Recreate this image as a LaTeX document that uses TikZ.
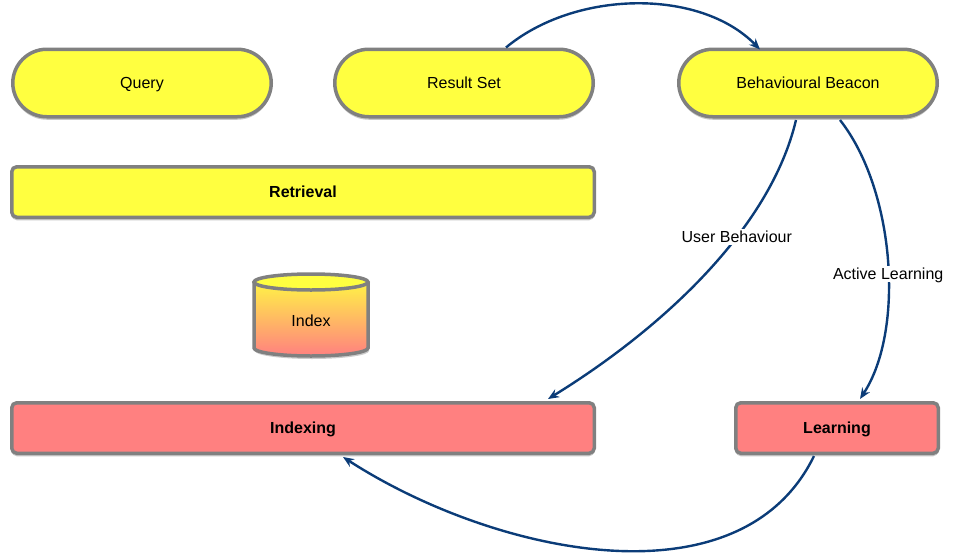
\documentclass[tikz,border=0pt]{standalone}
\usepackage{fontspec}
\setmainfont{Liberation Sans}
\usetikzlibrary{shadows,arrows.meta}
\definecolor{boxyellow}{HTML}{FFFF40}
\definecolor{boxsalmon}{HTML}{FF8080}
\definecolor{boxedge}{HTML}{808080}
\definecolor{arrowblue}{HTML}{0B3C78}
\tikzset{
  base/.style={draw=boxedge, line width=3.5pt, font=\fontsize{16}{19}\selectfont,
    text height=11.5pt, text depth=0pt,
    drop shadow={shadow xshift=0pt, shadow yshift=-3pt, opacity=0.22, fill=black}},
  pill/.style={base, fill=boxyellow, rounded corners=34pt, minimum width=258.5pt, minimum height=67.5pt},
  bar/.style={base, rounded corners=5pt, minimum height=50.5pt, font=\fontsize{16}{19}\selectfont\bfseries},
  flow/.style={draw=arrowblue, line width=2.4pt, -{Stealth[length=11pt,width=9pt]}},
  lbl/.style={fill=white, inner sep=2pt, font=\fontsize{16}{19}\selectfont}
}
\begin{document}
\begin{tikzpicture}[x=1pt,y=-1pt]
\useasboundingbox (0,0) rectangle (954,555);
\node[pill] (query) at (142,83) {Query};
\node[pill] (rs) at (464,83) {Result Set};
\node[pill] (bb) at (808,83) {Behavioural Beacon};
\node[bar, fill=boxyellow, minimum width=582.5pt] (ret) at (303,192) {Retrieval};
\node[bar, fill=boxsalmon, minimum width=582.5pt] (idx) at (303,428) {Indexing};
\node[bar, fill=boxsalmon, minimum width=202.5pt] (learn) at (837,428) {Learning};
% Index cylinder
\begin{scope}
\fill[black, opacity=0.2] (255,285) -- (255,351) arc[start angle=180,end angle=360,x radius=57,y radius=-8] -- (369,285) -- cycle;
\shade[top color=boxyellow, bottom color=boxsalmon] (254,282) -- (254,348) arc[start angle=180,end angle=360,x radius=57,y radius=-8] -- (368,282) arc[start angle=0,end angle=180,x radius=57,y radius=-8] -- cycle;
\fill[boxyellow] (311,282) ellipse[x radius=57,y radius=8];
\draw[boxedge, line width=3.5pt] (254,282) -- (254,348) arc[start angle=180,end angle=360,x radius=57,y radius=-8] -- (368,282);
\draw[boxedge, line width=3.5pt] (311,282) ellipse[x radius=57,y radius=8];
\end{scope}
\node[font=\fontsize{16}{19}\selectfont] (index) at (311,321) {Index};
% connectors
\coordinate (rsA) at ([xshift=42pt]rs.north);
\coordinate (bbA) at ([xshift=-48pt,yshift=-2pt]bb.north);
\draw[flow] (rsA) .. controls (575,-10) and (700,-12) .. (bbA);
\coordinate (bbB) at (796,120);
\coordinate (bbC) at (840,120);
\coordinate (idxA) at (548,399);
\coordinate (lrA) at (860,399);
\coordinate (lrB) at (814,456);
\coordinate (idxB) at (343,457);
\draw[flow] (bbB) .. controls (770,230) and (660,330) .. node[lbl, pos=0.37, text height=11.5pt, text depth=0pt] {User Behaviour} (idxA);
\draw[flow] (bbC) .. controls (895,190) and (905,330) .. node[lbl, pos=0.545, text height=11.5pt, text depth=0pt] {Active Learning} (lrA);
\draw[flow] (lrB) .. controls (740,608) and (493,554) .. (idxB);
\end{tikzpicture}
\end{document}
